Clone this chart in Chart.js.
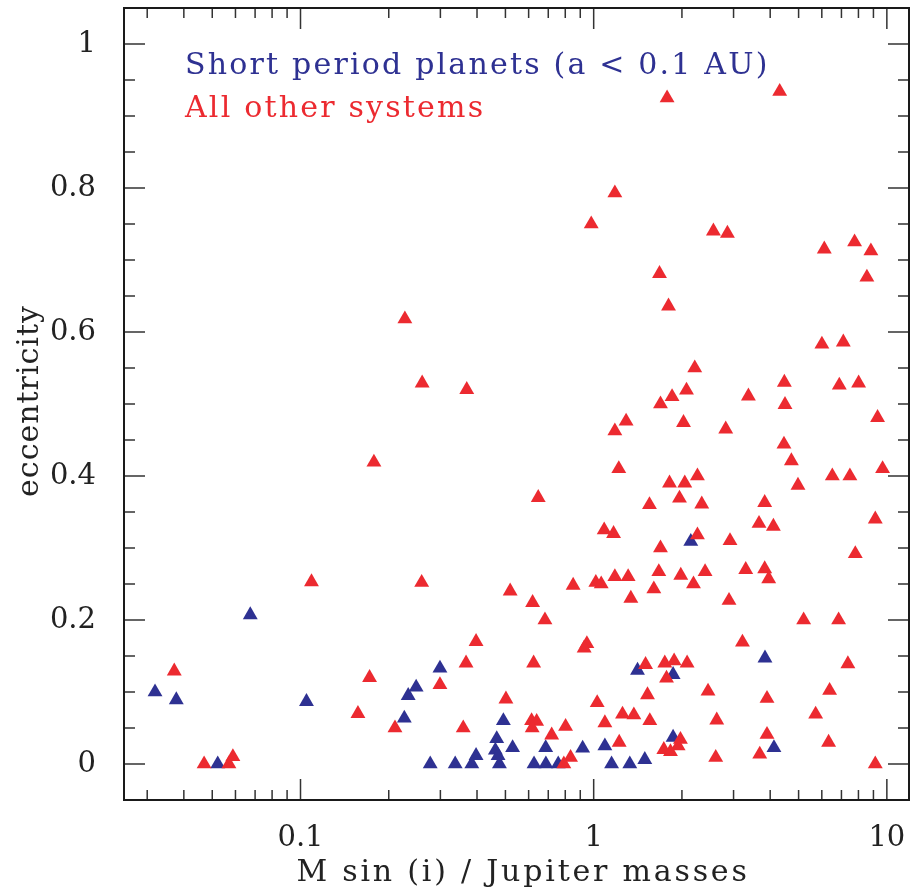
<!DOCTYPE html>
<html lang="en">
<head>
  <meta charset="UTF-8">
  <title>Eccentricity vs M sin(i)</title>
  <script src="https://cdn.jsdelivr.net/npm/chart.js"></script>
  <style>
    html,body{margin:0;background:#fff;overflow:hidden;}
    #wrap{width:910px;height:891px;position:relative;}
    canvas{display:block;}
  </style>
</head>
<body>
<div id="wrap"><canvas id="eccChart"></canvas></div>
<script>
/* ——— DATA ——— */
// short period planets (a < 0.1 AU)
const shortMass = [0.0319,0.0377,0.0522,0.0674,0.1048,0.226,0.233,0.248,0.299,0.277,0.337,0.384,0.397,0.477,0.467,0.462,0.472,0.492,0.529,0.626,0.687,0.686,0.757,0.917,1.092,1.151,1.328,1.494,1.411,1.866,1.866,2.144,3.84,4.12];
const shortEcc  = [0.100,0.089,0,0.207,0.0865,0.0635,0.095,0.1065,0.133,0,0,0,0.0115,0,0.035,0.019,0.0115,0.060,0.0226,0,0,0.0226,0,0.0218,0.025,0,0,0.006,0.130,0.124,0.037,0.309,0.147,0.0226];

// all other systems
const otherMass = [0.0469,0.0570,0.0588,0.0371,0.109,0.172,0.157,0.210,0.178,0.227,
  0.260,0.369,0.259,0.519,0.619,0.682,0.851,1.017,1.061,1.181,
  1.311,1.339,1.604,0.397,0.948,0.928,0.367,0.624,1.503,0.299,
  0.502,1.028,1.526,0.359,0.614,0.639,0.617,0.719,0.802,1.092,
  1.254,1.371,1.554,1.222,0.834,0.791,1.668,1.982,2.399,3.301,
  3.831,3.954,2.190,2.895,5.202,6.846,3.217,7.364,1.748,1.881,
  2.083,1.772,2.455,3.901,6.379,5.716,2.629,3.901,6.329,1.977,
  1.735,1.828,1.941,2.608,3.685,9.131,1.290,1.181,1.218,0.647,
  1.550,1.086,1.169,1.690,2.212,4.471,6.884,8.011,2.073,1.851,
  1.690,3.371,4.493,9.297,2.025,2.821,4.457,4.725,9.67,6.516,
  7.481,4.976,2.259,1.814,2.045,1.962,2.337,3.831,3.664,4.102,
  9.131,2.259,2.918,7.805,1.780,4.310,1.181,0.981,2.561,2.859,
  6.118,7.762,8.822,8.550,1.677,1.800,6.004,7.104];
const otherEcc  = [0,0,0.010,0.129,0.253,0.120,0.070,0.050,0.419,0.618,
  0.529,0.520,0.252,0.240,0.224,0.200,0.248,0.252,0.250,0.260,
  0.260,0.230,0.243,0.170,0.167,0.161,0.140,0.140,0.138,0.110,
  0.090,0.085,0.096,0.050,0.060,0.059,0.050,0.040,0.052,0.057,
  0.069,0.068,0.060,0.030,0.009,0,0.267,0.262,0.267,0.270,
  0.271,0.257,0.250,0.227,0.200,0.200,0.169,0.139,0.140,0.143,
  0.140,0.119,0.101,0.091,0.102,0.069,0.061,0.041,0.030,0.034,
  0.020,0.017,0.025,0.009,0.0135,0,0.476,0.4625,0.410,0.370,
  0.360,0.325,0.320,0.300,0.550,0.530,0.526,0.529,0.519,0.510,
  0.500,0.511,0.499,0.481,0.474,0.465,0.444,0.421,0.410,0.400,
  0.400,0.387,0.400,0.390,0.390,0.369,0.361,0.363,0.334,0.330,
  0.340,0.318,0.310,0.292,0.925,0.934,0.793,0.750,0.740,0.737,
  0.715,0.725,0.7125,0.676,0.681,0.636,0.583,0.586];

const xTicks = [0.1, 1, 10];
const xLabels = ['0.1', '1', '10'];
const yTicks = [0, 0.2, 0.4, 0.6, 0.8, 1];
const yLabels = ['0', '0.2', '0.4', '0.6', '0.8', '1'];
const legendText = ['Short period planets (a < 0.1 AU)', 'All other systems'];

/* ——— STYLE ——— */
const RED = '#ec2a30', BLUE = '#2e3192', INK = '#222';
const FONT = '"DejaVu Serif", serif';

const pts = (xs, ys) => xs.map((m, i) => ({x: m, y: ys[i]}));

// minor tick values (2..9 per decade; every 0.05 in e)
const xMinor = [];
[0.01, 0.1, 1].forEach(d => { for (let k = 2; k <= 9; k++) xMinor.push(+(k*d).toPrecision(3)); });
const yMinor = [];
for (let k = 1; k < 20; k++) if (k % 4) yMinor.push(k*0.05);

// fixed box: no label-driven padding
const noPad = s => { s.paddingTop = s.paddingBottom = s.paddingLeft = s.paddingRight = 0; };

/* ——— frame, inward ticks, titles and legend ——— */
const framePlugin = {
  id: 'frame',
  beforeDatasetsDraw(chart){
    const {ctx, chartArea:a, scales:{x, y}} = chart;
    ctx.save();
    ctx.strokeStyle = '#333';
    ctx.lineWidth = 1.5;
    ctx.beginPath();
    const tickX = (v, len) => {
      const p = x.getPixelForValue(v);
      if (p <= a.left + 1 || p >= a.right - 1) return;
      ctx.moveTo(p, a.bottom); ctx.lineTo(p, a.bottom - len);
      ctx.moveTo(p, a.top);    ctx.lineTo(p, a.top + len);
    };
    const tickY = (v, len) => {
      const p = y.getPixelForValue(v);
      ctx.moveTo(a.left, p);  ctx.lineTo(a.left + len, p);
      ctx.moveTo(a.right, p); ctx.lineTo(a.right - len, p);
    };
    xMinor.forEach(v => tickX(v, 10));
    xTicks.forEach(v => tickX(v, 21));
    yMinor.forEach(v => tickY(v, 11));
    yTicks.forEach(v => tickY(v, 21));
    ctx.stroke();
    ctx.strokeStyle = '#1a1a1a';
    ctx.lineWidth = 2;
    ctx.strokeRect(a.left, a.top, a.right - a.left, a.bottom - a.top);
    ctx.restore();
  },
  afterDraw(chart){
    const {ctx, chartArea:a} = chart;
    ctx.save();
    ctx.textBaseline = 'alphabetic';
    // axis titles
    ctx.fillStyle = INK;
    ctx.font = '30px ' + FONT;
    ctx.letterSpacing = '2.8px';
    ctx.textAlign = 'center';
    ctx.fillText('M sin (i) / Jupiter masses', 523, 881);
    ctx.save();
    ctx.translate(38, (a.top + a.bottom)/2 - 3);
    ctx.rotate(-Math.PI/2);
    ctx.letterSpacing = '1px';
    ctx.fillText('eccentricity', 0, 0);
    ctx.restore();
    // legend
    ctx.textAlign = 'left';
    ctx.letterSpacing = '2.2px';
    ctx.fillStyle = BLUE;
    ctx.fillText(legendText[0], 185, 74);
    ctx.fillStyle = RED;
    ctx.fillText(legendText[1], 185, 117);
    ctx.restore();
  }
};

const tickFont = {family: FONT, size: 29};

new Chart(document.getElementById('eccChart'), {
  type: 'scatter',
  data: {
    datasets: [
      {label: legendText[1], data: pts(otherMass, otherEcc), backgroundColor: RED},
      {label: legendText[0], data: pts(shortMass, shortEcc), backgroundColor: BLUE}
    ]
  },
  options: {
    responsive: true,
    maintainAspectRatio: false,
    animation: false,
    layout: {autoPadding: false, padding: {top: 8, right: 1, left: 0, bottom: 0}},
    elements: {point: {pointStyle: 'triangle', radius: 8.6, borderWidth: 0}},
    plugins: {legend: {display: false}, tooltip: {enabled: false}},
    scales: {
      x: {
        type: 'logarithmic', min: 0.025, max: 11.9,
        grid: {display: false}, border: {display: false},
        afterBuildTicks: s => { s.ticks = xTicks.map(v => ({value: v})); },
        afterFit: s => { s.height = 91; noPad(s); },
        ticks: {font: tickFont, color: INK, padding: 13, maxRotation: 0,
                callback: (v) => xLabels[xTicks.indexOf(v)] ?? ''}
      },
      y: {
        min: -0.05, max: 1.05,
        grid: {display: false}, border: {display: false},
        afterBuildTicks: s => { s.ticks = yTicks.map(v => ({value: v})); },
        afterFit: s => { s.width = 124; noPad(s); },
        ticks: {font: tickFont, color: INK, padding: 20,
                callback: (v) => yLabels[yTicks.indexOf(v)] ?? ''}
      }
    }
  },
  plugins: [framePlugin]
});
</script>
</body>
</html>
